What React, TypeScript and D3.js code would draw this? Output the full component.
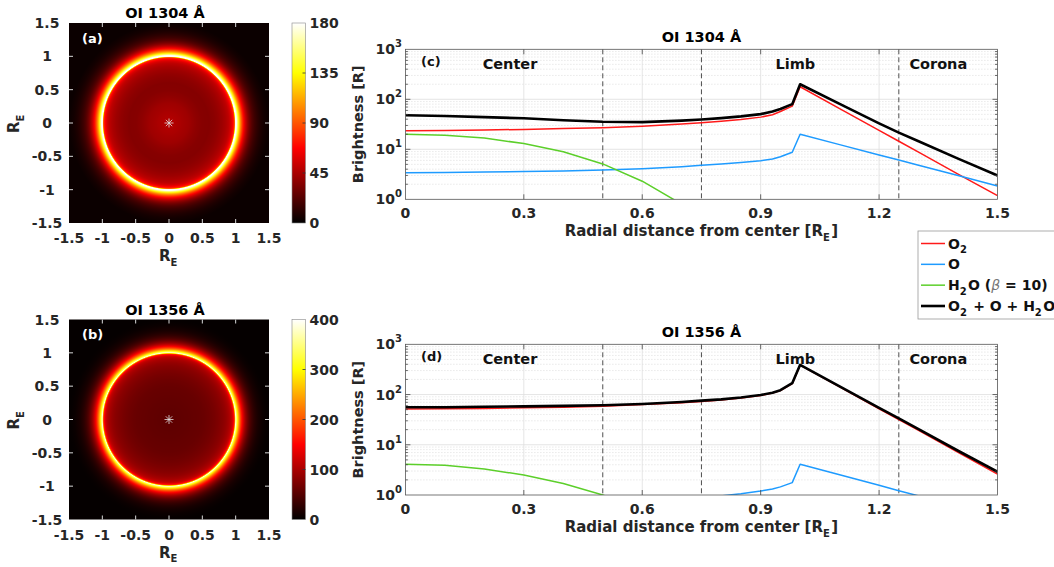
import React from "react";
import * as d3 from "d3";

// radial grid of the profiles [R_E]
const radius = [0, 0.1, 0.2, 0.3, 0.4, 0.5, 0.6, 0.7, 0.75, 0.8, 0.85, 0.9, 0.93, 0.95, 0.98, 1.0, 1.1, 1.2, 1.25, 1.3, 1.4, 1.5];

// OI 1304 brightness [R]
const o2_1304 = [23.5, 23.8, 24.3, 25, 26, 27, 29, 32, 34, 36.5, 39.5, 44, 49, 57, 73, 178, 65, 23.9, 14.5, 8.8, 3.2, 1.18];
const o_1304 = [3.4, 3.45, 3.5, 3.6, 3.7, 3.85, 4.1, 4.5, 4.8, 5.1, 5.45, 5.9, 6.4, 7.1, 8.7, 20, 12.4, 7.7, 6.1, 4.8, 3.0, 1.85];
const h2o_1304 = [20, 19.2, 16.8, 13, 8.9, 5.1, 2.3, 0.8, 0.4, null, null, null, null, null, null, null, null, null, null, null, null, null];
const total_1304 = [47.9, 46.5, 44, 41.7, 38, 35.5, 35, 37.5, 39.5, 42, 45.5, 50.5, 57, 64, 80, 200, 81, 33, 21.5, 14.5, 6.5, 3];

// OI 1356 brightness [R]
const o2_1356 = [51.5, 52, 53, 54.5, 56, 58.5, 63, 69, 73, 78, 85, 96, 107, 120, 165, 385, 142, 52, 31.8, 19.3, 7.1, 2.6];
const o_1356 = [0.6, 0.61, 0.63, 0.65, 0.68, 0.71, 0.76, 0.83, 0.88, 0.96, 1.06, 1.2, 1.32, 1.45, 1.76, 4.1, 2.53, 1.56, 1.22, 0.96, 0.59, 0.36];
const h2o_1356 = [4.1, 3.9, 3.3, 2.5, 1.7, 1.0, 0.52, 0.24, null, null, null, null, null, null, null, null, null, null, null, null, null, null];
const total_1356 = [55.8, 56, 57, 58, 59.5, 61, 65, 71, 75.5, 80, 87, 98, 109, 122, 168, 390, 145, 54, 33.5, 20.5, 7.6, 2.9];

const imgTicks = [-1.5, -1, -0.5, 0, 0.5, 1, 1.5];
const cbTicks1304 = [0, 45, 90, 135, 180];
const cbTicks1356 = [0, 100, 200, 300, 400];
const radialTicks = [0, 0.3, 0.6, 0.9, 1.2, 1.5];
const decadeTicks = [1, 10, 100, 1000];
const regionBounds = [0.5, 0.75, 1.25];
const regionNames = ["Center", "Limb", "Corona"];
const regionAt = [0.265, 0.988, 1.35];

const legendNames = ["O2", "O", "H2O", "total"];
const colors = { o2: "#ff1a1a", o: "#1e9bff", h2o: "#5ccf2a", total: "#000000" };

const FONT = "'DejaVu Sans', 'Liberation Sans', sans-serif";
const TXT = "#262626";

function hot(t: number) {
  const c = (v: number) => Math.max(0, Math.min(1, v));
  t = c(t);
  return d3
    .rgb(255 * c(t / 0.375), 255 * c((t - 0.375) / 0.375), 255 * c((t - 0.75) / 0.25))
    .formatHex();
}

const Sub = ({ s, size = 10 }: { s: string; size?: number }) => (
  <>
    <tspan fontSize={size} dy={4.5}>{s}</tspan>
    <tspan dy={-4.5}>{"\u200a"}</tspan>
  </>
);

const ImagePanel = ({ id, top, title, tag, profile, cmax, cbTicks }: any) => {
  const left = 69;
  const size = 200;
  const x = d3.scaleLinear().domain([-1.5, 1.5]).range([left, left + size]);
  const y = d3.scaleLinear().domain([-1.5, 1.5]).range([top + size, top]);
  const cb = d3.scaleLinear().domain([0, cmax]).range([top + size, top]);

  // radial brightness map built from the total profile
  const stops: { off: number; color: string }[] = [];
  const n = 8;
  for (let i = 0; i < radius.length - 1; i++) {
    for (let k = 0; k < n; k++) {
      const f = k / n;
      const r = radius[i] + (radius[i + 1] - radius[i]) * f;
      const v = Math.exp(Math.log(profile[i]) * (1 - f) + Math.log(profile[i + 1]) * f);
      stops.push({ off: r / 1.5, color: hot(v / cmax) });
    }
  }
  stops.push({ off: 1, color: hot(profile[profile.length - 1] / cmax) });

  const cx = x(0);
  const cy = y(0);
  const rpx = x(1.5) - x(0);
  const cbx = 292;
  const cbw = 13.5;

  return (
    <g>
      <defs>
        <radialGradient id={`img-${id}`} gradientUnits="userSpaceOnUse" cx={cx} cy={cy} r={rpx}>
          {stops.map((s, i) => (
            <stop key={i} offset={s.off} stopColor={s.color} />
          ))}
        </radialGradient>
        <linearGradient id={`cb-${id}`} x1="0" y1="1" x2="0" y2="0">
          {[0, 0.375, 0.75, 1].map((t) => (
            <stop key={t} offset={t} stopColor={hot(t)} />
          ))}
        </linearGradient>
      </defs>
      <rect x={left} y={top} width={size} height={size} fill={`url(#img-${id})`} />
      {/* center marker */}
      <g stroke="#e0e0e0" strokeWidth={0.8}>
        {[0, 45, 90, 135].map((a) => {
          const dx = 4.5 * Math.cos((a * Math.PI) / 180);
          const dy = 4.5 * Math.sin((a * Math.PI) / 180);
          return <line key={a} x1={cx - dx} y1={cy - dy} x2={cx + dx} y2={cy + dy} />;
        })}
      </g>
      <g stroke="#d8d8d8" strokeWidth={1}>
        {imgTicks.slice(1, -1).map((t) => (
          <g key={t}>
            <line x1={x(t)} x2={x(t)} y1={top + size} y2={top + size - 4} />
            <line x1={x(t)} x2={x(t)} y1={top} y2={top + 4} />
            <line x1={left} x2={left + 4} y1={y(t)} y2={y(t)} />
            <line x1={left + size} x2={left + size - 4} y1={y(t)} y2={y(t)} />
          </g>
        ))}
      </g>
      <text x={left + 13} y={top + 15} fill="#fff" fontSize={13} fontWeight="bold" dominantBaseline="central">
        {tag}
      </text>
      <g fontSize={14} fontWeight="bold" fill={TXT}>
        {imgTicks.map((t) => (
          <text key={"x" + t} x={x(t)} y={top + size + 15} textAnchor="middle" dominantBaseline="central">
            {String(t)}
          </text>
        ))}
        {imgTicks.map((t) => (
          <text key={"y" + t} x={47} y={y(t)} textAnchor="middle" dominantBaseline="central">
            {String(t)}
          </text>
        ))}
        <text x={x(0)} y={top + size + 38} textAnchor="middle" fontSize={15}>
          R<Sub s="E" />
        </text>
        <text transform={`translate(19,${y(0)}) rotate(-90)`} textAnchor="middle" fontSize={15}>
          R<Sub s="E" />
        </text>
      </g>
      <text x={165} y={top - 10} textAnchor="middle" fontSize={14.5} fontWeight="bold" fill="#000" dominantBaseline="central">
        {title}
      </text>
      {/* colorbar */}
      <rect x={cbx} y={top} width={cbw} height={size} fill={`url(#cb-${id})`} stroke="#888" strokeWidth={0.6} />
      <g stroke="#333" strokeWidth={0.8}>
        {cbTicks.slice(1, -1).map((t: number) => (
          <line key={t} x1={cbx + cbw} x2={cbx + cbw - 3} y1={cb(t)} y2={cb(t)} />
        ))}
      </g>
      <g fontSize={14} fontWeight="bold" fill={TXT}>
        {cbTicks.map((t: number) => (
          <text key={t} x={cbx + cbw + 4} y={cb(t)} dominantBaseline="central">
            {t}
          </text>
        ))}
      </g>
    </g>
  );
};

const ProfilePanel = ({ id, top, bottom, title, tag, series }: any) => {
  const x = d3.scaleLinear().domain([0, 1.5]).range([405.4, 997.5]);
  const y = d3.scaleLog().domain([1, 1000]).range([bottom, top]);
  const [x0, x1] = x.range();
  const minor: number[] = [];
  decadeTicks.slice(0, -1).forEach((d) => {
    for (let k = 2; k <= 9; k++) minor.push(d * k);
  });
  const line = d3
    .line<number | null>()
    .defined((v) => v != null)
    .x((_, i) => x(radius[i]))
    .y((v) => y(v as number));
  const midX = (x0 + x1) / 2;

  return (
    <g>
      <defs>
        <clipPath id={`clip-${id}`}>
          <rect x={x0} y={top} width={x1 - x0} height={bottom - top} />
        </clipPath>
      </defs>
      <rect x={x0} y={top} width={x1 - x0} height={bottom - top} fill="#fff" />
      {/* grid */}
      <g stroke="#c8c8c8" strokeWidth={0.6} strokeDasharray="1,2">
        {minor.map((m) => (
          <line key={m} x1={x0} x2={x1} y1={y(m)} y2={y(m)} />
        ))}
      </g>
      <g stroke="#dedede" strokeWidth={0.8}>
        {decadeTicks.slice(1, -1).map((d) => (
          <line key={d} x1={x0} x2={x1} y1={y(d)} y2={y(d)} />
        ))}
        {radialTicks.slice(1, -1).map((t) => (
          <line key={t} x1={x(t)} x2={x(t)} y1={top} y2={bottom} />
        ))}
      </g>
      {/* region boundaries */}
      <g stroke="#222" strokeWidth={0.8} strokeDasharray="5,3">
        {regionBounds.map((b) => (
          <line key={b} x1={x(b)} x2={x(b)} y1={top} y2={bottom} />
        ))}
      </g>
      <g clipPath={`url(#clip-${id})`} fill="none" strokeLinejoin="round">
        {series.map((s: any, i: number) => (
          <path key={i} d={line(s.values) || ""} stroke={s.color} strokeWidth={s.width} />
        ))}
      </g>
      {/* ticks */}
      <g stroke="#444" strokeWidth={0.8}>
        {radialTicks.slice(1, -1).map((t) => (
          <g key={t}>
            <line x1={x(t)} x2={x(t)} y1={bottom} y2={bottom - 5} />
            <line x1={x(t)} x2={x(t)} y1={top} y2={top + 5} />
          </g>
        ))}
        {decadeTicks.slice(1, -1).map((d) => (
          <g key={d}>
            <line x1={x0} x2={x0 + 5} y1={y(d)} y2={y(d)} />
            <line x1={x1} x2={x1 - 5} y1={y(d)} y2={y(d)} />
          </g>
        ))}
        {minor.map((m) => (
          <g key={m}>
            <line x1={x0} x2={x0 + 2.5} y1={y(m)} y2={y(m)} />
            <line x1={x1} x2={x1 - 2.5} y1={y(m)} y2={y(m)} />
          </g>
        ))}
      </g>
      <rect x={x0} y={top} width={x1 - x0} height={bottom - top} fill="none" stroke="#555" strokeWidth={0.8} />
      <g fontSize={14} fontWeight="bold" fill={TXT}>
        {radialTicks.map((t) => (
          <text key={t} x={x(t)} y={bottom + 14} textAnchor="middle" dominantBaseline="central">
            {String(t)}
          </text>
        ))}
        {decadeTicks.map((d, i) => (
          <text key={d} x={402} y={y(d) + 5} textAnchor="end">
            <tspan>10</tspan>
            <tspan fontSize={10} dy={-7}>{i}</tspan>
          </text>
        ))}
        <text x={midX} y={bottom + 37} textAnchor="middle" fontSize={15}>
          Radial distance from center [R<Sub s="E" />]
        </text>
        <text transform={`translate(363,${(top + bottom) / 2}) rotate(-90)`} textAnchor="middle" fontSize={14.5}>
          Brightness [R]
        </text>
      </g>
      <text x={midX} y={top - 12} textAnchor="middle" fontSize={14.5} fontWeight="bold" fill="#000" dominantBaseline="central">
        {title}
      </text>
      <g fontWeight="bold" fill="#111">
        <text x={421} y={top + 12} fontSize={13} dominantBaseline="central">
          {tag}
        </text>
        {regionNames.map((name, i) => (
          <text key={name} x={x(regionAt[i])} y={top + 15} fontSize={14.5} textAnchor="middle" dominantBaseline="central">
            {name}
          </text>
        ))}
      </g>
    </g>
  );
};

const Legend = () => {
  const x0 = 918;
  const y0 = 231;
  const rows = [
    { key: legendNames[0], color: colors.o2, width: 1.5 },
    { key: legendNames[1], color: colors.o, width: 1.5 },
    { key: legendNames[2], color: colors.h2o, width: 1.5 },
    { key: legendNames[3], color: colors.total, width: 2.6 },
  ];
  const rowY = d3.scaleLinear().domain([0, 3]).range([y0 + 12.5, y0 + 75]);
  const label = (k: string) => {
    if (k === "O2")
      return (
        <>
          O<Sub s="2" />
        </>
      );
    if (k === "O") return <>O</>;
    if (k === "H2O")
      return (
        <>
          H<Sub s="2" />O (<tspan fontStyle="italic" fontWeight="normal" fill="#777">β</tspan> = 10)
        </>
      );
    return (
      <>
        O<Sub s="2" /> + O + H<Sub s="2" />O
      </>
    );
  };
  return (
    <g>
      <rect x={x0} y={y0} width={150} height={88} fill="#fff" stroke="#999" strokeWidth={0.8} />
      {rows.map((r, i) => (
        <g key={r.key}>
          <line x1={x0 + 3} x2={x0 + 27} y1={rowY(i)} y2={rowY(i)} stroke={r.color} strokeWidth={r.width} />
          <text x={x0 + 30} y={rowY(i) + 5} fontSize={14} fontWeight="bold" fill="#111">
            {label(r.key)}
          </text>
        </g>
      ))}
    </g>
  );
};

export default function App() {
  const series1304 = [
    { values: o2_1304, color: colors.o2, width: 1.5 },
    { values: o_1304, color: colors.o, width: 1.5 },
    { values: h2o_1304, color: colors.h2o, width: 1.5 },
    { values: total_1304, color: colors.total, width: 2.6 },
  ];
  const series1356 = [
    { values: o2_1356, color: colors.o2, width: 1.5 },
    { values: o_1356, color: colors.o, width: 1.5 },
    { values: h2o_1356, color: colors.h2o, width: 1.5 },
    { values: total_1356, color: colors.total, width: 2.6 },
  ];
  return (
    <svg
      width={1054}
      height={567}
      style={{ position: "absolute", left: 0, top: 0, background: "#fff" }}
      fontFamily={FONT}
    >
      <ImagePanel id="a" top={23} title="OI 1304 Å" tag="(a)" profile={total_1304} cmax={180} cbTicks={cbTicks1304} />
      <ImagePanel id="b" top={319.5} title="OI 1356 Å" tag="(b)" profile={total_1356} cmax={400} cbTicks={cbTicks1356} />
      <ProfilePanel id="c" top={49.3} bottom={199.3} title="OI 1304 Å" tag="(c)" series={series1304} />
      <ProfilePanel id="d" top={344.3} bottom={495} title="OI 1356 Å" tag="(d)" series={series1356} />
      <Legend />
    </svg>
  );
}
